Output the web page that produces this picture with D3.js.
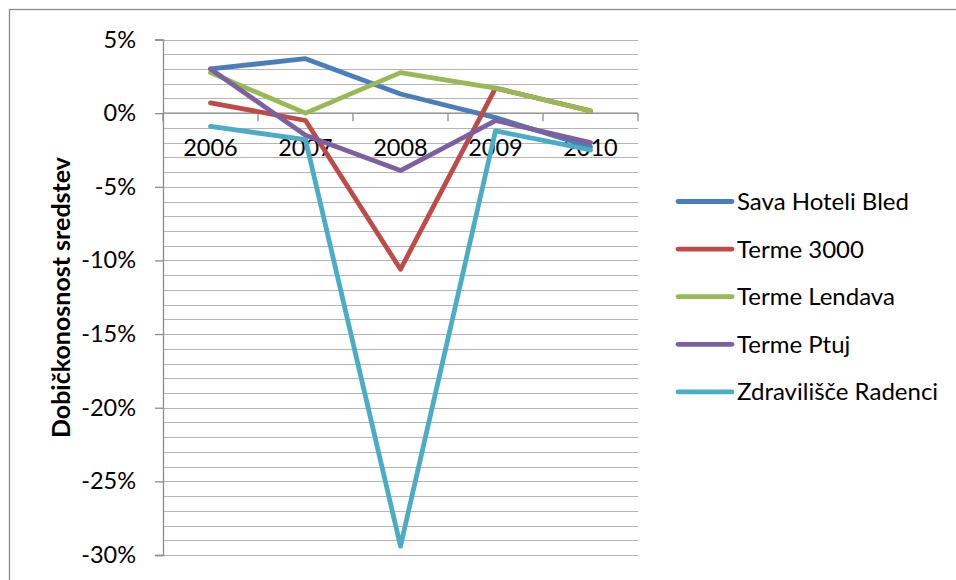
<!DOCTYPE html>
<html><head><meta charset="utf-8">
<script src="https://cdn.jsdelivr.net/npm/d3@7"></script>
<style>
html,body{margin:0;padding:0;background:#fff;}
svg{display:block;font-family:Lato,"Open Sans",sans-serif;}
</style></head>
<body>
<svg id="chart" width="956" height="580"></svg>
<script>
const years = ["2006","2007","2008","2009","2010"];
const seriesNames = ["Sava Hoteli Bled","Terme 3000","Terme Lendava","Terme Ptuj","Zdravilišče Radenci"];
const savaHoteliBled = [3.0, 3.7, 1.3, -0.3, -2.3];
const terme3000 = [0.7, -0.5, -10.6, 1.7, 0.15];
const termeLendava = [2.75, 0.0, 2.75, 1.7, 0.15];
const termePtuj = [3.0, -1.5, -3.9, -0.5, -2.0];
const zdraviliseRadenci = [-0.9, -1.8, -29.4, -1.2, -2.5];
const colors = ["#4a7ebb","#be4b48","#98b954","#7d60a0","#4bacc6"];
const yTicks = [5,0,-5,-10,-15,-20,-25,-30];
const yTitle = "Dobičkonosnost sredstev";

const values = [savaHoteliBled, terme3000, termeLendava, termePtuj, zdraviliseRadenci];
const series = seriesNames.map((n,i)=>({name:n,color:colors[i],values:values[i]}));

const svg = d3.select("#chart");
// outer chart border
svg.append("rect").attr("x",9.5).attr("y",9.5).attr("width",960).attr("height",600)
  .attr("fill","none").attr("stroke","#8c8c8c").attr("stroke-width",1.3);

const pLeft = 163, pRight = 638, pTop = 39.5, pBottom = 555;
const y = d3.scaleLinear().domain([-30,5]).range([pBottom, pTop]);
const x = d3.scalePoint().domain(years).range([pLeft, pRight]).padding(0.5);
const xb = d3.scaleBand().domain(years).range([pLeft, pRight]);

// gridlines every 1%
const grid = d3.range(-30, 6, 1);
svg.append("g").selectAll("line").data(grid).join("line")
  .attr("x1", pLeft).attr("x2", pRight)
  .attr("y1", d=>Math.round(y(d))+0.5).attr("y2", d=>Math.round(y(d))+0.5)
  .attr("stroke","#b4b4b4").attr("stroke-width",1.2);

// y axis
const yAxis = d3.axisLeft(y).tickValues(yTicks).tickSize(8).tickPadding(19)
  .tickFormat(d=>d+"%");
const gy = svg.append("g").attr("transform",`translate(${pLeft},0)`).call(yAxis);
gy.select(".domain").attr("stroke","#8c8c8c").attr("stroke-width",1.3);
gy.selectAll(".tick line").attr("stroke","#8c8c8c").attr("stroke-width",1.3);
gy.selectAll(".tick text").attr("font-size",23.5).attr("fill","#000")
  .attr("font-family","Lato,'Open Sans',sans-serif");

// x axis at 0
const gx = svg.append("g").attr("transform",`translate(0,${y(0)})`);
gx.append("line").attr("x1",pLeft).attr("x2",pRight).attr("stroke","#8c8c8c").attr("stroke-width",1.3);
const bounds = years.map(d=>xb(d)).concat([pRight]);
gx.selectAll("line.tk").data(bounds).join("line").attr("class","tk")
  .attr("x1",d=>d).attr("x2",d=>d).attr("y1",0).attr("y2",8)
  .attr("stroke","#8c8c8c").attr("stroke-width",1.3);
gx.selectAll("text").data(years).join("text")
  .attr("x",d=>x(d)).attr("y",42.5).attr("text-anchor","middle")
  .attr("font-size",23.5).attr("fill","#000").text(d=>d);

// y title
svg.append("text").attr("transform",`translate(70,297.5) rotate(-90)`)
  .attr("text-anchor","middle").attr("font-size",25).attr("font-weight","bold")
  .attr("fill","#000").text(yTitle);

// lines
const line = d3.line().x((d,i)=>x(years[i])).y(d=>y(d));
svg.append("g").selectAll("path").data(series).join("path")
  .attr("d",d=>line(d.values)).attr("fill","none")
  .attr("stroke",d=>d.color).attr("stroke-width",4.8)
  .attr("stroke-linejoin","round").attr("stroke-linecap","round");

// legend
const lg = svg.append("g").selectAll("g").data(series).join("g")
  .attr("transform",(d,i)=>`translate(678,${201.5+i*47.6})`);
lg.append("line").attr("x1",0).attr("x2",54).attr("stroke",d=>d.color)
  .attr("stroke-width",4.8).attr("stroke-linecap","round");
lg.append("text").attr("x",59).attr("y",8.5).attr("font-size",24).attr("fill","#000")
  .text(d=>d.name);
</script>
</body></html>
